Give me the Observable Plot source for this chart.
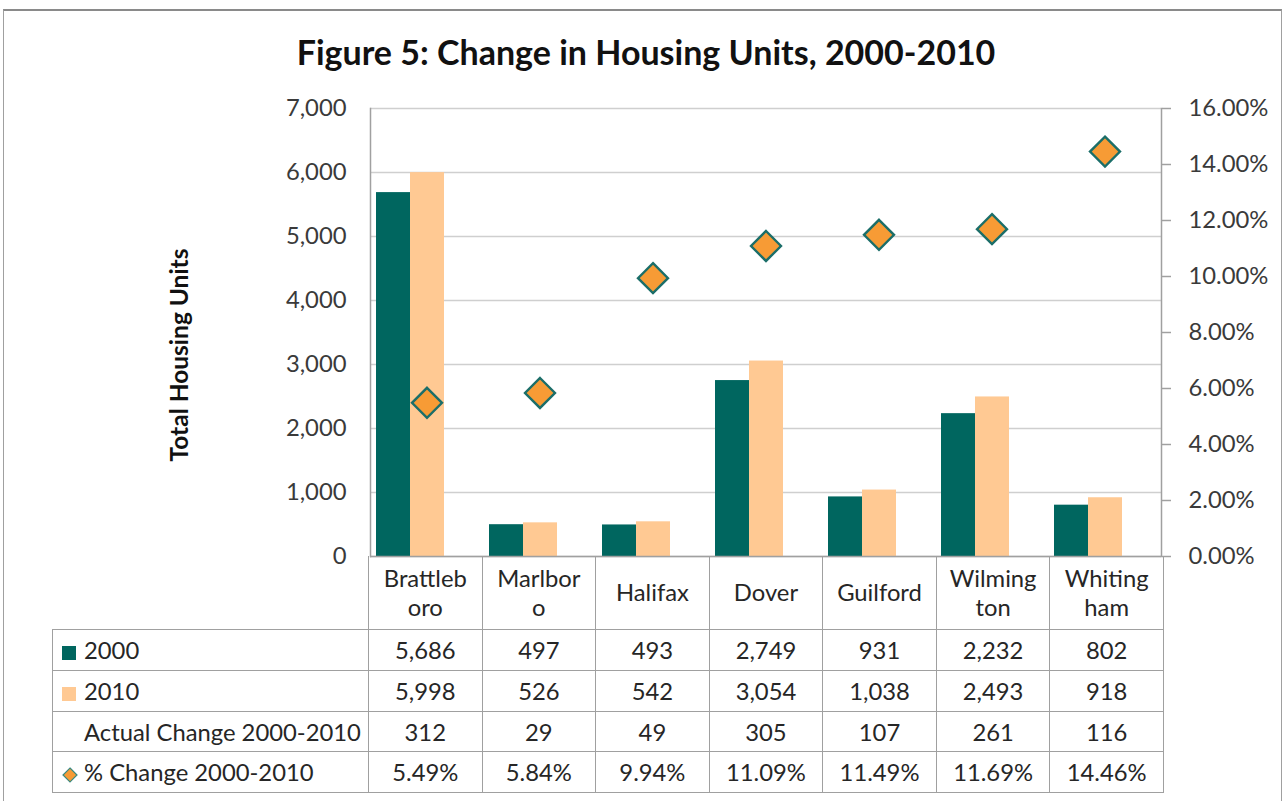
<!DOCTYPE html>
<html>
<head>
<meta charset="utf-8">
<script src="https://cdn.jsdelivr.net/npm/d3@7"></script>
<script src="https://cdn.jsdelivr.net/npm/@observablehq/plot@0.6"></script>
<style>
  html, body { margin: 0; padding: 0; background: #fff; }
  #wrap { position: relative; width: 1284px; height: 801px; overflow: hidden; background: #fff; font-family: Lato, "Open Sans", sans-serif; color: #262626; }
  #frame { position: absolute; left: 3px; top: 9px; width: 1277px; height: 820px; border-top: 2px solid #8a8a8a; border-left: 1px solid #a0a0a0; border-right: 1px solid #a0a0a0; }
  #title { position: absolute; left: 0; width: 1292px; top: 31px; text-align: center; font-weight: bold; font-size: 34px; color: #111; }
  #ytitle { position: absolute; left: 178px; top: 355px; transform: translate(-50%, -50%) rotate(-90deg); font-weight: bold; font-size: 24.5px; color: #111; white-space: nowrap; }
  #chart { position: absolute; left: 0; top: 0; }
  table.dt { position: absolute; left: 52px; top: 556px; border-collapse: collapse; table-layout: fixed; font-size: 23.8px; color: #262626; }
  table.dt td { padding: 0; text-align: center; vertical-align: middle; white-space: nowrap; }
  table.dt tr.cat td { height: 73px; line-height: 29px; }
  table.dt tr.cat td.c { border-left: 1.5px solid #a0a0a0; border-right: 1.5px solid #a0a0a0; }
  table.dt tr.row td { border: 1.5px solid #a0a0a0; height: 40px; }
  table.dt td.lab { text-align: left; padding-left: 9px; }
  .key { display: inline-block; width: 14px; height: 14px; margin-right: 8px; vertical-align: -1px; }
</style>
</head>
<body>
<div id="wrap">
  <div id="frame"></div>
  <div id="chart"></div>
  <div id="title">Figure 5: Change in Housing Units, 2000-2010</div>
  <div id="ytitle">Total Housing Units</div>
</div>
<script>
// ---- data ----
const towns = ["Brattleboro", "Marlboro", "Halifax", "Dover", "Guilford", "Wilmington", "Whitingham"];
const townLabelLines = [["Brattleb", "oro"], ["Marlbor", "o"], ["Halifax"], ["Dover"], ["Guilford"], ["Wilming", "ton"], ["Whiting", "ham"]];
const units2000 = [5686, 497, 493, 2749, 931, 2232, 802];
const units2010 = [5998, 526, 542, 3054, 1038, 2493, 918];
const actualChange = [312, 29, 49, 305, 107, 261, 116];
const pctChange = [5.49, 5.84, 9.94, 11.09, 11.49, 11.69, 14.46];
const yTicks = [0, 1000, 2000, 3000, 4000, 5000, 6000, 7000];
const pctTicks = [0, 2, 4, 6, 8, 10, 12, 14, 16];
const seriesNames = ["2000", "2010", "Actual Change 2000-2010"];

const teal = "#00665F";
const peach = "#FFC993";
const orange = "#F79B35";
const diamondStroke = "#1B6E69";
const axisGray = "#a0a0a0";

const yMax = 7000, pMax = 16;
const toY = p => p * yMax / pMax;

const barData = [];
towns.forEach((t, i) => {
  barData.push({town: t, series: seriesNames[0], value: units2000[i]});
  barData.push({town: t, series: seriesNames[1], value: units2010[i]});
});
const pctData = towns.map((t, i) => ({town: t, pct: pctChange[i]}));

const chart = Plot.plot({
  width: 1284,
  height: 801,
  marginTop: 108,
  marginBottom: 245,
  marginLeft: 368,
  marginRight: 121,
  style: {fontFamily: "Lato, 'Open Sans', sans-serif", fontSize: "23.8px", color: "#3a3a3a", background: "transparent"},
  fx: {domain: towns, padding: 0, axis: null},
  x: {domain: seriesNames, paddingInner: 0, paddingOuter: 0.137, axis: null},
  y: {domain: [0, yMax], axis: null},
  color: {domain: seriesNames.slice(0, 2), range: [teal, peach]},
  marks: [
    Plot.gridY(yTicks, {stroke: "#cfcfcf", strokeOpacity: 1, strokeWidth: 1.5}),
    Plot.barY(barData, {fx: "town", x: "series", y: "value", fill: "series"}),
    Plot.ruleY([0], {stroke: axisGray, strokeWidth: 1.5}),
    Plot.frame({anchor: "left", facetAnchor: "left", stroke: axisGray, strokeWidth: 1.5}),
    Plot.frame({anchor: "right", facetAnchor: "right", stroke: axisGray, strokeWidth: 1.5}),
    Plot.axisY(yTicks, {anchor: "left", tickSize: 0, tickPadding: 24, tickFormat: d3.format(","), label: null}),
    Plot.axisY(pctTicks.map(toY), {anchor: "right", tickSize: 9, tickPadding: 18, stroke: axisGray, strokeWidth: 1.5,
      tickFormat: d => (d * pMax / yMax).toFixed(2) + "%", label: null}),
    Plot.dot(pctData, {fx: "town", y: d => toY(d.pct), symbol: "diamond2", r: 13.5, fill: orange, stroke: diamondStroke, strokeWidth: 2.4})
  ]
});
document.getElementById("chart").appendChild(chart);

// ---- data table below the chart ----
const wrap = d3.select("#wrap");
const colW = (1163 - 368) / towns.length;
const table = wrap.append("table").attr("class", "dt").style("width", (1163 - 52) + "px");
const cg = table.append("colgroup");
cg.append("col").style("width", (368 - 52) + "px");
towns.forEach(() => cg.append("col").style("width", colW + "px"));

const catRow = table.append("tr").attr("class", "cat");
catRow.append("td");
townLabelLines.forEach(lines => catRow.append("td").attr("class", "c").html(lines.join("<br>")));

const rows = [
  {label: "2000", key: "square", color: teal, values: units2000.map(d3.format(","))},
  {label: "2010", key: "square", color: peach, values: units2010.map(d3.format(","))},
  {label: "Actual Change 2000-2010", key: "none", values: actualChange.map(d3.format(","))},
  {label: "% Change 2000-2010", key: "diamond", values: pctChange.map(v => v.toFixed(2) + "%")}
];
rows.forEach((r, ri) => {
  const tr = table.append("tr").attr("class", "row");
  const lab = tr.append("td").attr("class", "lab");
  if (r.key === "square") {
    lab.append("span").attr("class", "key").style("background", r.color);
  } else if (r.key === "diamond") {
    const s = lab.append("svg").attr("width", 16).attr("height", 16)
      .style("margin-right", "6px").style("vertical-align", "-2px");
    s.append("path").attr("d", "M8,1L15,8L8,15L1,8Z").attr("fill", orange).attr("stroke", "#3a8a80").attr("stroke-width", 1.2);
  } else {
    lab.append("span").attr("class", "key");
  }
  lab.append("span").text(r.label);
  r.values.forEach(v => tr.append("td").text(v));
  if (ri === 2) tr.selectAll("td").style("height", "39px");
});
</script>
</body>
</html>
